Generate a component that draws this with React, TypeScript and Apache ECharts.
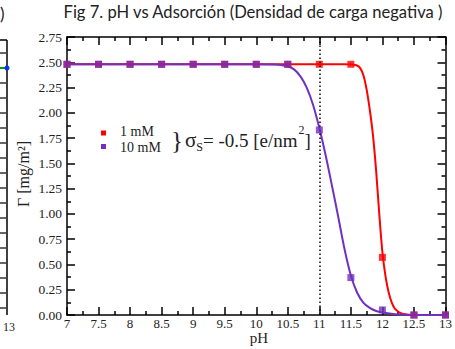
import React, { useEffect, useRef } from "react";
import * as echarts from "echarts";

// ---- data ----
const markerPH = [7, 7.5, 8, 8.5, 9, 9.5, 10, 10.5, 11, 11.5, 12, 12.5, 13];
const gamma1mM = [2.48, 2.48, 2.48, 2.48, 2.48, 2.48, 2.48, 2.48, 2.48, 2.48, 0.57, 0, 0];
const gamma10mM = [2.48, 2.48, 2.48, 2.48, 2.48, 2.48, 2.48, 2.48, 1.83, 0.37, 0.05, 0, 0];

const fit1mMPH = [7, 9, 11, 11.4, 11.5, 11.6, 11.65, 11.7, 11.75, 11.8, 11.85, 11.9, 11.95, 12.0, 12.05, 12.1, 12.15, 12.2, 12.3, 12.4, 12.5, 13];
const fit1mMG = [2.48, 2.48, 2.48, 2.48, 2.478, 2.468, 2.44, 2.37, 2.23, 2.03, 1.78, 1.43, 1.0, 0.62, 0.38, 0.22, 0.12, 0.06, 0.015, 0.003, 0, 0];

const fit10mMPH = [7, 9, 10, 10.3, 10.4, 10.5, 10.6, 10.7, 10.8, 10.9, 11.0, 11.1, 11.2, 11.3, 11.4, 11.5, 11.6, 11.7, 11.8, 11.9, 12.0, 12.2, 12.5, 13];
const fit10mMG = [2.48, 2.48, 2.48, 2.478, 2.472, 2.46, 2.43, 2.36, 2.25, 2.08, 1.85, 1.58, 1.28, 0.97, 0.65, 0.39, 0.22, 0.12, 0.07, 0.04, 0.025, 0.008, 0, 0];

const markPH = 11;
const titleText = "Fig 7. pH vs Adsorción (Densidad de carga negativa )";
const legendLabels = ["1 mM", "10 mM"];

const RED = "#ff0000";
const PURPLE = "#7030c0";
const SERIF = "Liberation Serif, DejaVu Serif, serif";

function measure(text: string, size: number, family: string) {
  const c = document.createElement("canvas").getContext("2d")!;
  c.font = `${size}px ${family}`;
  return c.measureText(text).width;
}

export default function App() {
  const ref = useRef<HTMLDivElement>(null);
  useEffect(() => {
    if (!ref.current) return;
    const chart = echarts.init(ref.current, null, { renderer: "svg" });

    const titleSize = (100 * 380) / measure(titleText, 100, "Lato");

    const axisCommon = {
      type: "value" as const,
      axisLine: { show: true, onZero: false, lineStyle: { color: "#000", width: 1.5 } },
      axisTick: { show: true, inside: true, length: 8, lineStyle: { color: "#000", width: 1.5 } },
      minorTick: { show: true, splitNumber: 2, length: 4, lineStyle: { color: "#000", width: 1.5 } },
      splitLine: { show: false },
      minorSplitLine: { show: false },
    };

    // sigma expression pieces
    const sx = 185;
    const base = 146;
    const sigW = measure("σ", 21, SERIF);
    const sW = measure("S", 12, SERIF);
    const midText = "= -0.5 [e/nm";
    const midW = measure(midText, 19, SERIF);
    const supW = measure("2", 12, SERIF);

    const leftTicks: any[] = [];
    for (let y = 53; y < 315; y += 15) {
      leftTicks.push({ type: "line", shape: { x1: 0, y1: y, x2: 6, y2: y }, style: { stroke: "#000", lineWidth: 1.2 } });
    }

    const option: any = {
      animation: false,
      grid: { left: 67, top: 37, right: 6, bottom: 34 },
      xAxis: [
        {
          ...axisCommon,
          min: 7,
          max: 13,
          interval: 0.5,
          position: "bottom",
          axisLabel: { fontFamily: SERIF, fontSize: 13, lineHeight: 13, color: "#222", margin: 2 },
        },
        {
          ...axisCommon,
          min: 7,
          max: 13,
          interval: 0.5,
          position: "top",
          axisLabel: { show: false },
        },
      ],
      yAxis: [
        {
          ...axisCommon,
          min: 0,
          max: 2.75,
          interval: 0.25,
          position: "left",
          axisLabel: {
            fontFamily: SERIF,
            fontSize: 13.5,
            color: "#222",
            margin: 5,
            formatter: (v: number) => v.toFixed(2),
          },
        },
        {
          ...axisCommon,
          min: 0,
          max: 2.75,
          interval: 0.25,
          position: "right",
          axisLabel: { show: false },
        },
      ],
      series: [
        {
          type: "line",
          data: fit1mMPH.map((x, i) => [x, fit1mMG[i]]),
          smooth: 0.3,
          showSymbol: false,
          lineStyle: { color: RED, width: 2 },
          z: 2,
          markLine: {
            silent: true,
            symbol: "none",
            label: { show: false },
            lineStyle: { color: "#000", type: [1.5, 2.5], width: 1.5 },
            data: [{ xAxis: markPH }],
          },
        },
        {
          type: "line",
          data: fit10mMPH.map((x, i) => [x, fit10mMG[i]]),
          smooth: 0.3,
          showSymbol: false,
          lineStyle: { color: PURPLE, width: 2 },
          z: 3,
        },
        {
          type: "scatter",
          data: markerPH.map((x, i) => [x, gamma1mM[i]]),
          symbol: "rect",
          symbolSize: 7,
          itemStyle: { color: RED },
          z: 4,
        },
        {
          type: "scatter",
          data: markerPH.map((x, i) => [x, gamma10mM[i]]),
          symbol: "rect",
          symbolSize: 7,
          itemStyle: { color: PURPLE },
          z: 5,
        },
      ],
      graphic: [
        {
          type: "text",
          x: 253,
          y: 12,
          style: {
            text: titleText,
            font: `${titleSize}px Lato`,
            fill: "#222",
            align: "center",
            verticalAlign: "middle",
          },
        },
        // y axis name
        {
          type: "text",
          x: 23,
          y: 174,
          rotation: Math.PI / 2,
          style: {
            text: "Γ [mg/m²]",
            font: `16px ${SERIF}`,
            fill: "#222",
            align: "center",
            verticalAlign: "middle",
          },
        },
        // x axis name
        {
          type: "text",
          x: 259,
          y: 338,
          style: { text: "pH", font: `15px ${SERIF}`, lineHeight: 13, fill: "#222", align: "center", verticalAlign: "middle" },
        },
        // legend
        { type: "rect", shape: { x: 101, y: 130.5, width: 5, height: 5 }, style: { fill: RED } },
        { type: "rect", shape: { x: 101, y: 144, width: 5, height: 5 }, style: { fill: PURPLE } },
        {
          type: "text",
          x: 120,
          y: 131.5,
          style: { text: legendLabels[0], font: `14px ${SERIF}`, lineHeight: 12, fill: "#222", verticalAlign: "middle" },
        },
        {
          type: "text",
          x: 120,
          y: 147.5,
          style: { text: legendLabels[1], font: `14px ${SERIF}`, lineHeight: 12, fill: "#222", verticalAlign: "middle" },
        },
        {
          type: "text",
          x: 171,
          y: 140,
          style: { text: "}", font: `25px ${SERIF}`, fill: "#222", verticalAlign: "middle" },
        },
        {
          type: "text",
          x: sx,
          y: base + 4,
          style: { text: "σ", font: `21px ${SERIF}`, fill: "#222", verticalAlign: "bottom" },
        },
        {
          type: "text",
          x: sx + sigW,
          y: base + 7,
          style: { text: "S", font: `12px ${SERIF}`, fill: "#222", verticalAlign: "bottom" },
        },
        {
          type: "text",
          x: sx + sigW + sW,
          y: base + 4,
          style: { text: midText, font: `19px ${SERIF}`, fill: "#222", verticalAlign: "bottom" },
        },
        {
          type: "text",
          x: sx + sigW + sW + midW + 1,
          y: base - 10,
          style: { text: "2", font: `12px ${SERIF}`, fill: "#222", verticalAlign: "bottom" },
        },
        {
          type: "text",
          x: sx + sigW + sW + midW + supW + 1,
          y: base + 4,
          style: { text: "]", font: `19px ${SERIF}`, fill: "#222", verticalAlign: "bottom" },
        },
        // fragments of the neighbouring figure at the left edge
        { type: "line", shape: { x1: 0, y1: 40, x2: 7, y2: 40 }, style: { stroke: "#000", lineWidth: 1.5 } },
        { type: "line", shape: { x1: 7, y1: 40, x2: 7, y2: 315 }, style: { stroke: "#000", lineWidth: 1.5 } },
        ...leftTicks,
        { type: "line", shape: { x1: 0, y1: 68, x2: 7, y2: 68 }, style: { stroke: "#00a000", lineWidth: 2 } },
        { type: "circle", shape: { cx: 7, cy: 68, r: 2.5 }, style: { fill: "#0030ff" } },
        { type: "text", x: 3, y: 327, style: { text: "13", font: `12px ${SERIF}`, fill: "#222", verticalAlign: "middle" } },
        { type: "text", x: 0, y: 13, style: { text: ")", font: `17px Lato`, fill: "#222", verticalAlign: "middle" } },
      ],
    };
    chart.setOption(option);
    return () => chart.dispose();
  }, []);
  return (
    <div
      ref={ref}
      style={{ position: "absolute", left: 0, top: 0, width: 455, height: 349 }}
    />
  );
}
